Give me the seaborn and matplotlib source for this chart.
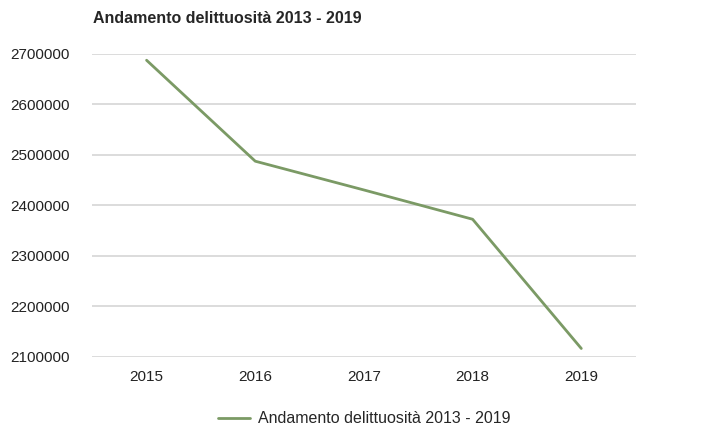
import pandas as pd
import matplotlib.pyplot as plt
import seaborn as sns

# dati
anni = ['2015', '2016', '2017', '2018', '2019']
delitti = [2687000, 2487000, 2430000, 2372000, 2116000]
serie = 'Andamento delittuosità 2013 - 2019'

df = pd.DataFrame({'anno': anni, 'delitti': delitti, 'serie': serie})

sns.set_theme(style="white")
plt.rcParams['font.family'] = ['Liberation Sans', 'DejaVu Sans']

fig = plt.figure(figsize=(7.15, 4.26), dpi=100)
ax = fig.add_axes([0.129, 0.163, 0.76, 0.711])

sns.lineplot(data=df, x='anno', y='delitti', hue='serie', palette=['#7b9a65'],
             linewidth=2, ax=ax, sort=False)

ax.set_xlim(-0.5, 4.5)
ax.set_ylim(2100000, 2700000)
ax.set_yticks(range(2100000, 2700001, 100000))
ax.set_yticklabels([str(v) for v in range(2100000, 2700001, 100000)])
ax.yaxis.grid(True, color='#d9d9d9', linewidth=1.3)
ax.set_axisbelow(True)
for s in ax.spines.values():
    s.set_visible(False)
ax.tick_params(axis='both', length=0, labelsize=11, colors='#222222')
ax.tick_params(axis='y', pad=16)
ax.tick_params(axis='x', pad=10)
ax.set_xlabel('')
ax.set_ylabel('')

fig.text(0.13, 0.957, serie, fontsize=11.5, fontweight='bold', ha='left', va='center')

ax.legend(loc='center', bbox_to_anchor=(0.5, -0.205), frameon=False,
          fontsize=11.5, handlelength=2.0, handletextpad=0.5)

fig.savefig('out.png', dpi=100)
